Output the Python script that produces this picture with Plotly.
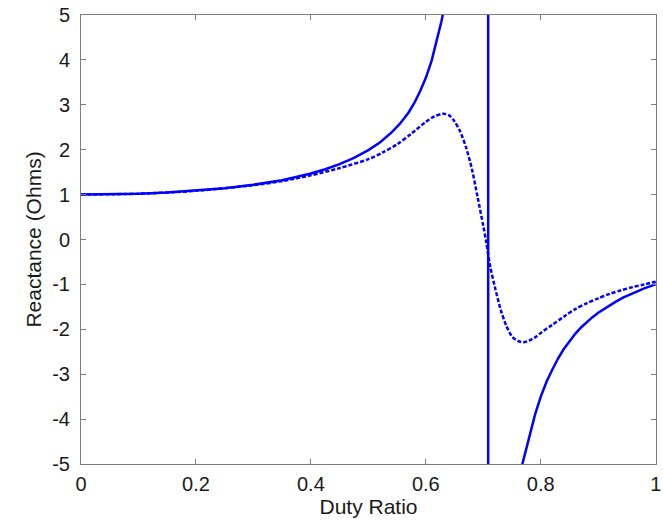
import plotly.graph_objects as go

# ---- data ----
duty_solid = [0, 0.05, 0.1, 0.15, 0.2, 0.25, 0.3, 0.35, 0.4, 0.425, 0.45, 0.475, 0.5, 0.52,
              0.54, 0.555, 0.57, 0.58, 0.59, 0.60, 0.61, 0.62, 0.627, 0.635, 0.65, 0.67,
              0.69, 0.70, 0.708,
              0.709, 0.72, 0.735, 0.75, 0.76, 0.768, 0.775, 0.78, 0.785, 0.79, 0.80, 0.81,
              0.82, 0.83, 0.84, 0.85, 0.86, 0.87, 0.88, 0.89, 0.90, 0.915, 0.93, 0.944,
              0.96, 0.98, 1.0]
react_solid = [1.0, 1.005, 1.02, 1.047, 1.087, 1.14, 1.22, 1.32, 1.47, 1.565, 1.68, 1.82, 1.99, 2.16,
               2.38, 2.58, 2.83, 3.04, 3.30, 3.60, 3.98, 4.47, 4.85, 5.35, 6.5, 9.5,
               25.0, 45.0, 400.0,
               -400.0, -30.0, -12.0, -7.6, -5.9, -5.0, -4.65, -4.40, -4.15, -3.90, -3.50, -3.17,
               -2.90, -2.65, -2.44, -2.26, -2.10, -1.96, -1.84, -1.73, -1.63, -1.50, -1.39, -1.29,
               -1.20, -1.09, -1.0]

duty_dash = [0, 0.1, 0.2, 0.3, 0.35, 0.4, 0.45, 0.5, 0.525, 0.55, 0.575, 0.6, 0.615,
             0.63, 0.64, 0.65, 0.66, 0.67, 0.68, 0.69, 0.70, 0.705, 0.712, 0.72, 0.73,
             0.74, 0.75, 0.76, 0.77, 0.78, 0.79, 0.80, 0.82, 0.84, 0.86, 0.88, 0.90,
             0.92, 0.94, 0.96, 0.98, 1.0]
react_dash = [1.0, 1.02, 1.085, 1.21, 1.30, 1.43, 1.59, 1.79, 1.94, 2.12, 2.36, 2.62, 2.74,
              2.80, 2.77, 2.63, 2.40, 2.05, 1.58, 0.95, 0.30, -0.05, -0.6, -1.05, -1.55,
              -1.92, -2.16, -2.26, -2.29, -2.25, -2.18, -2.08, -1.90, -1.72, -1.55, -1.42, -1.31,
              -1.21, -1.13, -1.06, -1.00, -0.94]

x_ticks = [0, 0.2, 0.4, 0.6, 0.8, 1.0]
x_tick_labels = ["0", "0.2", "0.4", "0.6", "0.8", "1"]
y_ticks = [-5, -4, -3, -2, -1, 0, 1, 2, 3, 4, 5]
y_tick_labels = ["-5", "-4", "-3", "-2", "-1", "0", "1", "2", "3", "4", "5"]

BLUE = "#0000ff"
AXIS = "#7f7f7f"
TXT = "#1a1a1a"
FONT = "Liberation Sans, Arial, sans-serif"

fig = go.Figure()
fig.add_trace(go.Scatter(x=duty_solid, y=react_solid, mode="lines",
                         line=dict(color=BLUE, width=2.5), showlegend=False))
fig.add_trace(go.Scatter(x=duty_dash, y=react_dash, mode="lines",
                         line=dict(color=BLUE, width=2.5, dash="4px,2px", shape="spline",
                                   smoothing=0.8),
                         showlegend=False))

axis_common = dict(showgrid=False, zeroline=False, showline=True, linecolor=AXIS,
                   linewidth=1, mirror="ticks", ticks="inside", ticklen=5,
                   tickcolor=AXIS, tickwidth=1, automargin=False,
                   ticklabeloverflow="allow",
                   tickfont=dict(family=FONT, size=20, color=TXT))

fig.update_xaxes(range=[0, 1.0005], tickvals=x_ticks, ticktext=x_tick_labels,
                 ticklabelstandoff=2,
                 title=dict(text="Duty Ratio", font=dict(family=FONT, size=21, color=TXT),
                            standoff=2),
                 **axis_common)
fig.update_yaxes(range=[-5, 5], tickvals=y_ticks, ticktext=y_tick_labels,
                 ticklabelstandoff=6,
                 title=dict(text="Reactance (Ohms)",
                            font=dict(family=FONT, size=21, color=TXT), standoff=4),
                 **axis_common)

fig.update_layout(width=663, height=521, margin=dict(l=81, r=7, t=15, b=57),
                  paper_bgcolor="white", plot_bgcolor="white",
                  font=dict(family=FONT))

# remove the default 8px page margin so the figure fills the window exactly
fig.write_html("out.html",
               config={"displayModeBar": False},
               post_script="document.body.style.margin='0';document.body.style.overflow='hidden';")
